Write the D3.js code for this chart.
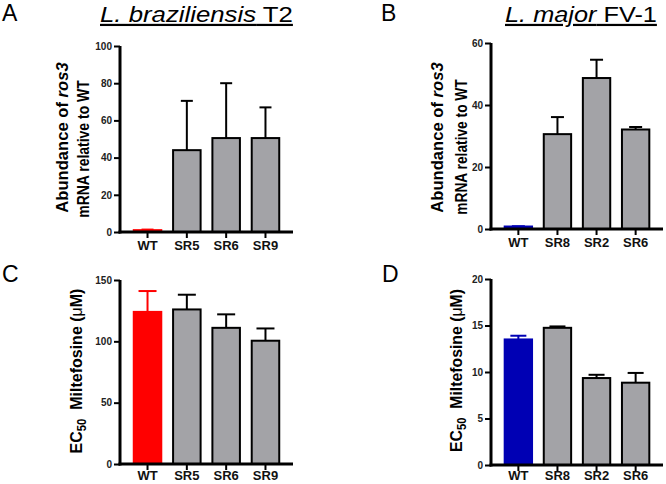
<!DOCTYPE html>
<html><head><meta charset="utf-8">
<script src="https://cdn.jsdelivr.net/npm/d3@7"></script>
<style>body{margin:0;background:#fff}svg{display:block;font-family:Arial,"Liberation Sans",sans-serif}</style>
</head><body><svg id="c" width="666" height="484"></svg>
<script>
// Panel A: L. braziliensis T2, ros3 abundance
const catsA = ["WT","SR5","SR6","SR9"];
const valsA = [1, 44, 50.5, 50.5];
const errA  = [0.3, 26.5, 29.5, 16.5];
const ticksA = [0,20,40,60,80,100];
// Panel B: L. major FV-1, ros3 abundance
const catsB = ["WT","SR8","SR2","SR6"];
const valsB = [0.8, 30.6, 48.7, 32.1];
const errB  = [0.1, 5.5, 5.9, 0.8];
const ticksB = [0,20,40,60];
// Panel C: EC50 L. braziliensis
const catsC = ["WT","SR5","SR6","SR9"];
const valsC = [124, 126, 111, 100.5];
const errC  = [17, 12, 11, 10];
const ticksC = [0,50,100,150];
// Panel D: EC50 L. major
const catsD = ["WT","SR8","SR2","SR6"];
const valsD = [13.5, 14.75, 9.35, 8.85];
const errD  = [0.4, 0.15, 0.35, 1.05];
const ticksD = [0,5,10,15,20];

const GRAY = "#a3a3a7", RED = "#ff0000", BLUE = "#0000b4";
const FONT = "Arial,Liberation Sans,sans-serif";
const svg = d3.select("#c");

function panel(o){
  const g = svg.append("g");
  const x = d3.scaleBand().domain(o.cats).range([o.ax, o.xEnd]).paddingInner(0.3).paddingOuter(0.35);
  const y = d3.scaleLinear().domain([0, o.max]).range([o.y0, o.yTop]);
  const data = o.cats.map((c,i)=>({c, v:o.vals[i], e:o.errs[i], col: i===0 ? o.wtColor : GRAY, stroke: i===0 ? o.wtColor : "#000"}));
  const eb = g.selectAll(".eb").data(data).join("g");
  eb.append("line").attr("x1", d=>x(d.c)+x.bandwidth()/2).attr("x2", d=>x(d.c)+x.bandwidth()/2)
    .attr("y1", d=>y(d.v)).attr("y2", d=>y(d.v+d.e)).attr("stroke", d=>d.stroke).attr("stroke-width", 2);
  eb.append("line").attr("x1", d=>x(d.c)+x.bandwidth()/2-o.cap/2).attr("x2", d=>x(d.c)+x.bandwidth()/2+o.cap/2)
    .attr("y1", d=>y(d.v+d.e)).attr("y2", d=>y(d.v+d.e)).attr("stroke", d=>d.stroke).attr("stroke-width", 2);
  g.selectAll(".bar").data(data).join("rect")
    .attr("x", d=>x(d.c)).attr("width", x.bandwidth())
    .attr("y", d=>y(d.v)).attr("height", d=>y(0)-y(d.v))
    .attr("fill", d=>d.col).attr("stroke", d=>d.stroke).attr("stroke-width", 2);
  const ya = g.append("g").attr("transform", `translate(${o.ax},0)`)
    .call(d3.axisLeft(y).tickValues(o.ticks).tickSize(6).tickPadding(2).tickSizeOuter(0));
  ya.select(".domain").attr("stroke-width", 3).attr("d", `M0,${o.yTop}V${o.y0+1.5}`);
  ya.selectAll(".tick line").attr("stroke-width", 2);
  ya.selectAll(".tick text").attr("font-size", 10).attr("font-weight", "bold").attr("font-family", FONT).attr("fill","#222");
  const xa = g.append("g").attr("transform", `translate(0,${o.y0})`)
    .call(d3.axisBottom(x).tickSize(6).tickSizeOuter(0));
  xa.select(".domain").attr("stroke-width", 3).attr("d", `M${o.ax-1.5},0H${o.xEnd}`);
  xa.selectAll(".tick line").attr("stroke-width", 2);
  xa.selectAll(".tick text").attr("font-size", 13).attr("font-weight", "bold").attr("font-family", FONT).attr("fill","#111")
    .attr("y", o.lab).attr("dy", null);
  svg.append("text").attr("x", o.lx).attr("y", o.ly).attr("font-size", 23).text(o.letter);
}

panel({cats:catsA, vals:valsA, errs:errA, ticks:ticksA, max:100, ax:120, xEnd:293, y0:232, yTop:46, cap:12, wtColor:RED, letter:"A", lx:2, ly:21, lab:17.5});
panel({cats:catsB, vals:valsB, errs:errB, ticks:ticksB, max:60, ax:491, xEnd:663, y0:229, yTop:43, cap:13, wtColor:BLUE, letter:"B", lx:381, ly:21, lab:17.5});
panel({cats:catsC, vals:valsC, errs:errC, ticks:ticksC, max:150, ax:120, xEnd:293, y0:464, yTop:280, cap:18, wtColor:RED, letter:"C", lx:2, ly:282, lab:16});
panel({cats:catsD, vals:valsD, errs:errD, ticks:ticksD, max:20, ax:491, xEnd:663, y0:465, yTop:279, cap:16, wtColor:BLUE, letter:"D", lx:382, ly:282, lab:15});

// fit text to a target length by scaling along its direction
function fit(t, target){
  const w = t.node().getBBox().width;
  t.attr("transform", `scale(${target/w},1)`);
}
function title(x, yb, ital, rest, len){
  const g = svg.append("g").attr("transform", `translate(${x},${yb})`);
  const t = g.append("text").attr("font-size", 22).attr("text-decoration","underline");
  t.append("tspan").attr("font-style","italic").text(ital);
  t.append("tspan").text(rest);
  fit(t, len);
}
title(100, 22, "L. braziliensis", " T2", 193);
title(505, 22, "L. major", " FV-1", 152);

function rot(cx, cy){
  return svg.append("g").attr("transform", `translate(${cx+6},${cy}) rotate(-90)`);
}
function ylab2(cx1, cy1, len1, cx2, cy2, len2){
  const a = rot(cx1, cy1).append("text").attr("text-anchor","middle").attr("font-size",17).attr("font-weight","bold");
  a.append("tspan").text("Abundance of ");
  a.append("tspan").attr("font-style","italic").text("ros3");
  fit(a, len1);
  const b = rot(cx2, cy2).append("text").attr("text-anchor","middle").attr("font-size",17).attr("font-weight","bold").text("mRNA relative to WT");
  fit(b, len2);
}
ylab2(62, 137.5, 151, 83, 149, 138);
ylab2(437, 137.5, 151, 461, 147, 136);
function ylabEC(cx, cy, len){
  const t = rot(cx, cy).append("text").attr("text-anchor","middle").attr("font-size",17).attr("font-weight","bold");
  t.append("tspan").text("EC");
  t.append("tspan").attr("font-size",12).attr("dy",4).text("50");
  t.append("tspan").attr("dy",-4).text("\u00a0 Miltefosine (");
  t.append("tspan").attr("font-weight","normal").text("\u03bc");
  t.append("tspan").text("M)");
  fit(t, len);
}
ylabEC(76, 371, 165);
ylabEC(456, 370.5, 163);
</script></body></html>
